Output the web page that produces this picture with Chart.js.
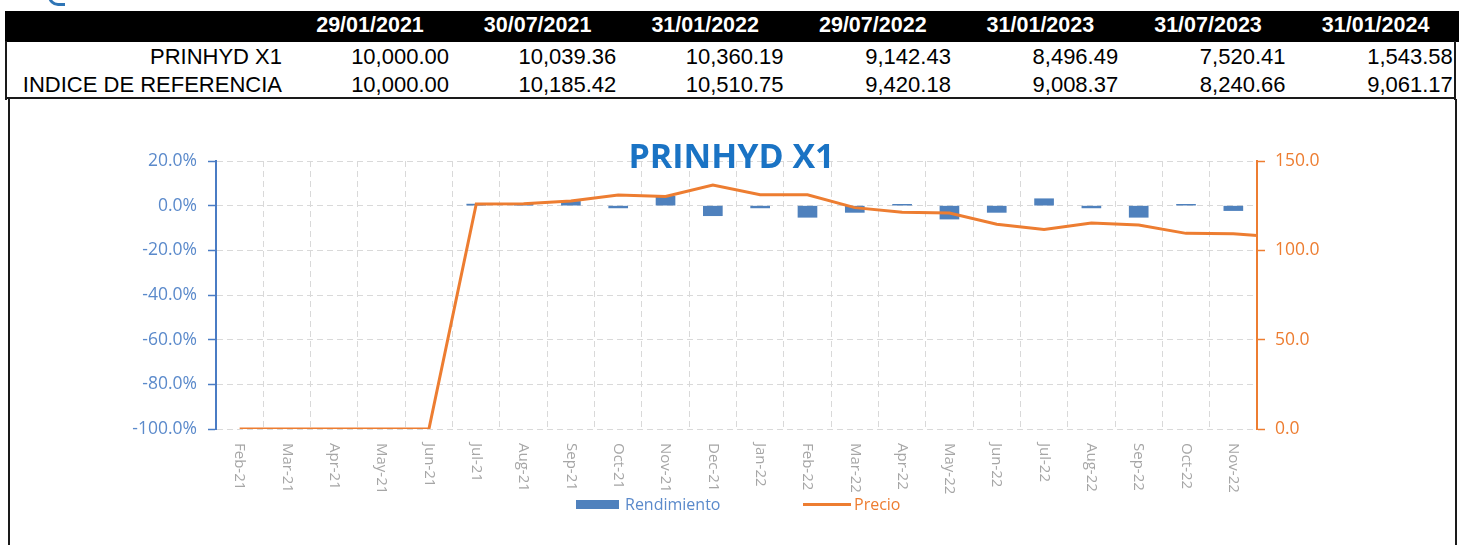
<!DOCTYPE html>
<html>
<head>
<meta charset="utf-8">
<script src="https://cdn.jsdelivr.net/npm/chart.js@4.4.1/dist/chart.umd.min.js"></script>
<style>
html,body{margin:0;padding:0;background:#fff;width:1459px;height:545px;overflow:hidden;}
#page{position:relative;width:1459px;height:545px;}
.line{position:absolute;background:#1a1a1a;}
.hdr{position:absolute;left:5px;top:11px;width:1454px;height:31px;background:#000;}
.cell{position:absolute;font-family:"Liberation Sans",Arial,sans-serif;font-size:22px;line-height:24px;white-space:nowrap;color:#000;}
.h{color:#fff;font-weight:bold;text-align:center;width:160px;font-size:21.5px;}
.r{text-align:right;width:300px;}
#chart{position:absolute;left:0;top:0;}
.frag{position:absolute;left:48px;top:-6px;width:14px;height:9px;border-bottom:3px solid #2e75b6;border-left:3px solid #2e75b6;border-bottom-left-radius:10px;}
</style>
</head>
<body>
<div id="page">
  <div class="frag"></div>
  <div class="hdr"></div>
  <div class="line" style="left:5px;top:41px;width:2px;height:59px;"></div>
  <div class="line" style="left:1454px;top:41px;width:2px;height:59px;"></div>
  <div class="line" style="left:5px;top:97px;width:1451px;height:2px;"></div>
  <div class="line" style="left:8px;top:99px;width:2px;height:446px;"></div>
  <div class="line" style="left:1455px;top:99px;width:2px;height:446px;"></div>
  <div id="table"></div>
  <canvas id="chart" width="1459" height="545"></canvas>
</div>
<script>
// ---- table data ----
const tableDates = ['29/01/2021','30/07/2021','31/01/2022','29/07/2022','31/01/2023','31/07/2023','31/01/2024'];
const rowNames = ['PRINHYD X1','INDICE DE REFERENCIA'];
const prinhydValues = ['10,000.00','10,039.36','10,360.19','9,142.43','8,496.49','7,520.41','1,543.58'];
const indiceValues = ['10,000.00','10,185.42','10,510.75','9,420.18','9,008.37','8,240.66','9,061.17'];

// ---- chart data ----
const categories = ['Feb-21','Mar-21','Apr-21','May-21','Jun-21','Jul-21','Aug-21','Sep-21','Oct-21','Nov-21','Dec-21',
  'Jan-22','Feb-22','Mar-22','Apr-22','May-22','Jun-22','Jul-22','Aug-22','Sep-22','Oct-22','Nov-22'];
const rendimiento = [null,null,null,null,null,0.7,0.8,1.9,-1.0,4.2,-4.5,-1.0,-5.2,-3.0,0.6,-6.0,-3.0,3.1,-1.0,-5.2,0.6,-2.2];
const precio = [0,0,0,0,0,125.9,126.1,127.6,131.0,130.2,136.6,131.1,131.1,123.9,121.3,120.9,114.6,111.7,115.3,114.2,109.5,109.3];
const precioNext = 107.3; // next point, past the right edge of the plot (line is clipped there)
const leftTicks = [-100,-80,-60,-40,-20,0,20];
const rightTicks = [0,50,100,150];
const chartTitle = 'PRINHYD X1';

// ---- build table ----
(function(){
  const t = document.getElementById('table');
  const add = (cls, text, left, top) => {
    const d = document.createElement('div');
    d.className = 'cell ' + cls;
    d.textContent = text;
    d.style.left = left + 'px';
    d.style.top = top + 'px';
    t.appendChild(d);
  };
  tableDates.forEach((d, i) => add('h', d, 370 + 167.6 * i - 80, 13));
  const rows = [prinhydValues, indiceValues];
  const tops = [45, 73];
  rowNames.forEach((n, r) => {
    add('r', n, 282 - 300, tops[r]);
    rows[r].forEach((v, i) => add('r', v, 449 + 167.3 * i - 300, tops[r]));
  });
})();

// ---- plugins ----
const extrasPlugin = {
  id: 'extras',
  afterDraw(chart) {
    const {ctx, chartArea} = chart;
    const xs = chart.scales.x;
    ctx.save();
    // title
    ctx.font = 'bold 34px "Open Sans"';
    ctx.fillStyle = '#1a73c4';
    ctx.textAlign = 'center';
    ctx.textBaseline = 'alphabetic';
    ctx.fillText(chartTitle, 731.5, 168);
    // x labels rotated (reading top to bottom)
    ctx.font = '15px "Open Sans"';
    ctx.fillStyle = '#a6a6a6';
    ctx.textAlign = 'left';
    ctx.textBaseline = 'middle';
    categories.forEach((lab, i) => {
      const x = xs.getPixelForValue(i);
      ctx.save();
      ctx.translate(x, chartArea.bottom + 14);
      ctx.rotate(Math.PI / 2);
      ctx.fillText(lab, 0, 0);
      ctx.restore();
    });
    // legend
    const ds = chart.data.datasets;
    ctx.font = '16px "Open Sans"';
    ctx.textBaseline = 'alphabetic';
    ctx.fillStyle = '#4f81bd';
    ctx.fillRect(576, 500, 43, 9);
    ctx.fillStyle = '#5b8acb';
    ctx.fillText(ds[0].label, 625, 509.5);
    ctx.strokeStyle = '#ed7d31';
    ctx.lineWidth = 3;
    ctx.beginPath();
    ctx.moveTo(803, 504.5);
    ctx.lineTo(851, 504.5);
    ctx.stroke();
    ctx.fillStyle = '#ed7d31';
    ctx.fillText(ds[1].label, 854, 509.5);
    ctx.restore();
  }
};

const lineData = precio.map((v, i) => ({x: i, y: v}));
lineData.push({x: precio.length, y: precioNext});

Chart.defaults.font.family = '"Open Sans", sans-serif';

new Chart(document.getElementById('chart'), {
  type: 'bar',
  data: {
    labels: categories,
    datasets: [
      {
        label: 'Rendimiento',
        data: rendimiento,
        backgroundColor: '#4f81bd',
        borderWidth: 0,
        grouped: false,
        barThickness: 19,
        xAxisID: 'x',
        yAxisID: 'y',
        order: 1
      },
      {
        type: 'line',
        label: 'Precio',
        data: lineData,
        borderColor: '#ed7d31',
        backgroundColor: '#ed7d31',
        borderWidth: 3,
        pointRadius: 0,
        tension: 0,
        fill: false,
        xAxisID: 'xl',
        yAxisID: 'y1',
        order: 0
      }
    ]
  },
  options: {
    responsive: false,
    animation: false,
    layout: {padding: {top: 161, left: 0, right: 0, bottom: 0}},
    plugins: {legend: {display: false}, tooltip: {enabled: false}, title: {display: false}},
    scales: {
      x: {
        type: 'category',
        position: 'bottom',
        offset: true,
        grid: {offset: true, color: '#d9d9d9', lineWidth: 1, drawTicks: false},
        border: {display: false, dash: [6, 4]},
        ticks: {display: false},
        afterFit: s => { s.height = 116; }
      },
      xl: {
        type: 'linear',
        display: false,
        min: -0.5,
        max: categories.length - 0.5,
        offset: false
      },
      y: {
        position: 'left',
        min: -100,
        max: 20,
        afterBuildTicks: s => { s.ticks = leftTicks.map(v => ({value: v})); },
        grid: {color: '#d9d9d9', lineWidth: 1, drawTicks: true, tickLength: 8, tickColor: '#4a7cc4', tickWidth: 1.5, tickBorderDash: []},
        border: {display: true, color: '#4a7cc4', width: 2, dash: [6, 4]},
        ticks: {color: '#5b8acb', font: {size: 17.5}, padding: 11, callback: v => Number(v).toFixed(1) + '%'},
        afterFit: s => { s.width = 216; }
      },
      y1: {
        position: 'right',
        min: 0,
        max: 150,
        afterBuildTicks: s => { s.ticks = rightTicks.map(v => ({value: v})); },
        grid: {drawOnChartArea: false, drawTicks: true, tickLength: 8, tickColor: '#ed7d31', tickWidth: 1.5, tickBorderDash: []},
        border: {display: true, color: '#ed7d31', width: 2},
        ticks: {color: '#ed7d31', font: {size: 17.5}, padding: 10, callback: v => Number(v).toFixed(1)},
        afterFit: s => { s.width = 1459 - 1257; }
      }
    }
  },
  plugins: [extrasPlugin]
});
</script>
</body>
</html>
